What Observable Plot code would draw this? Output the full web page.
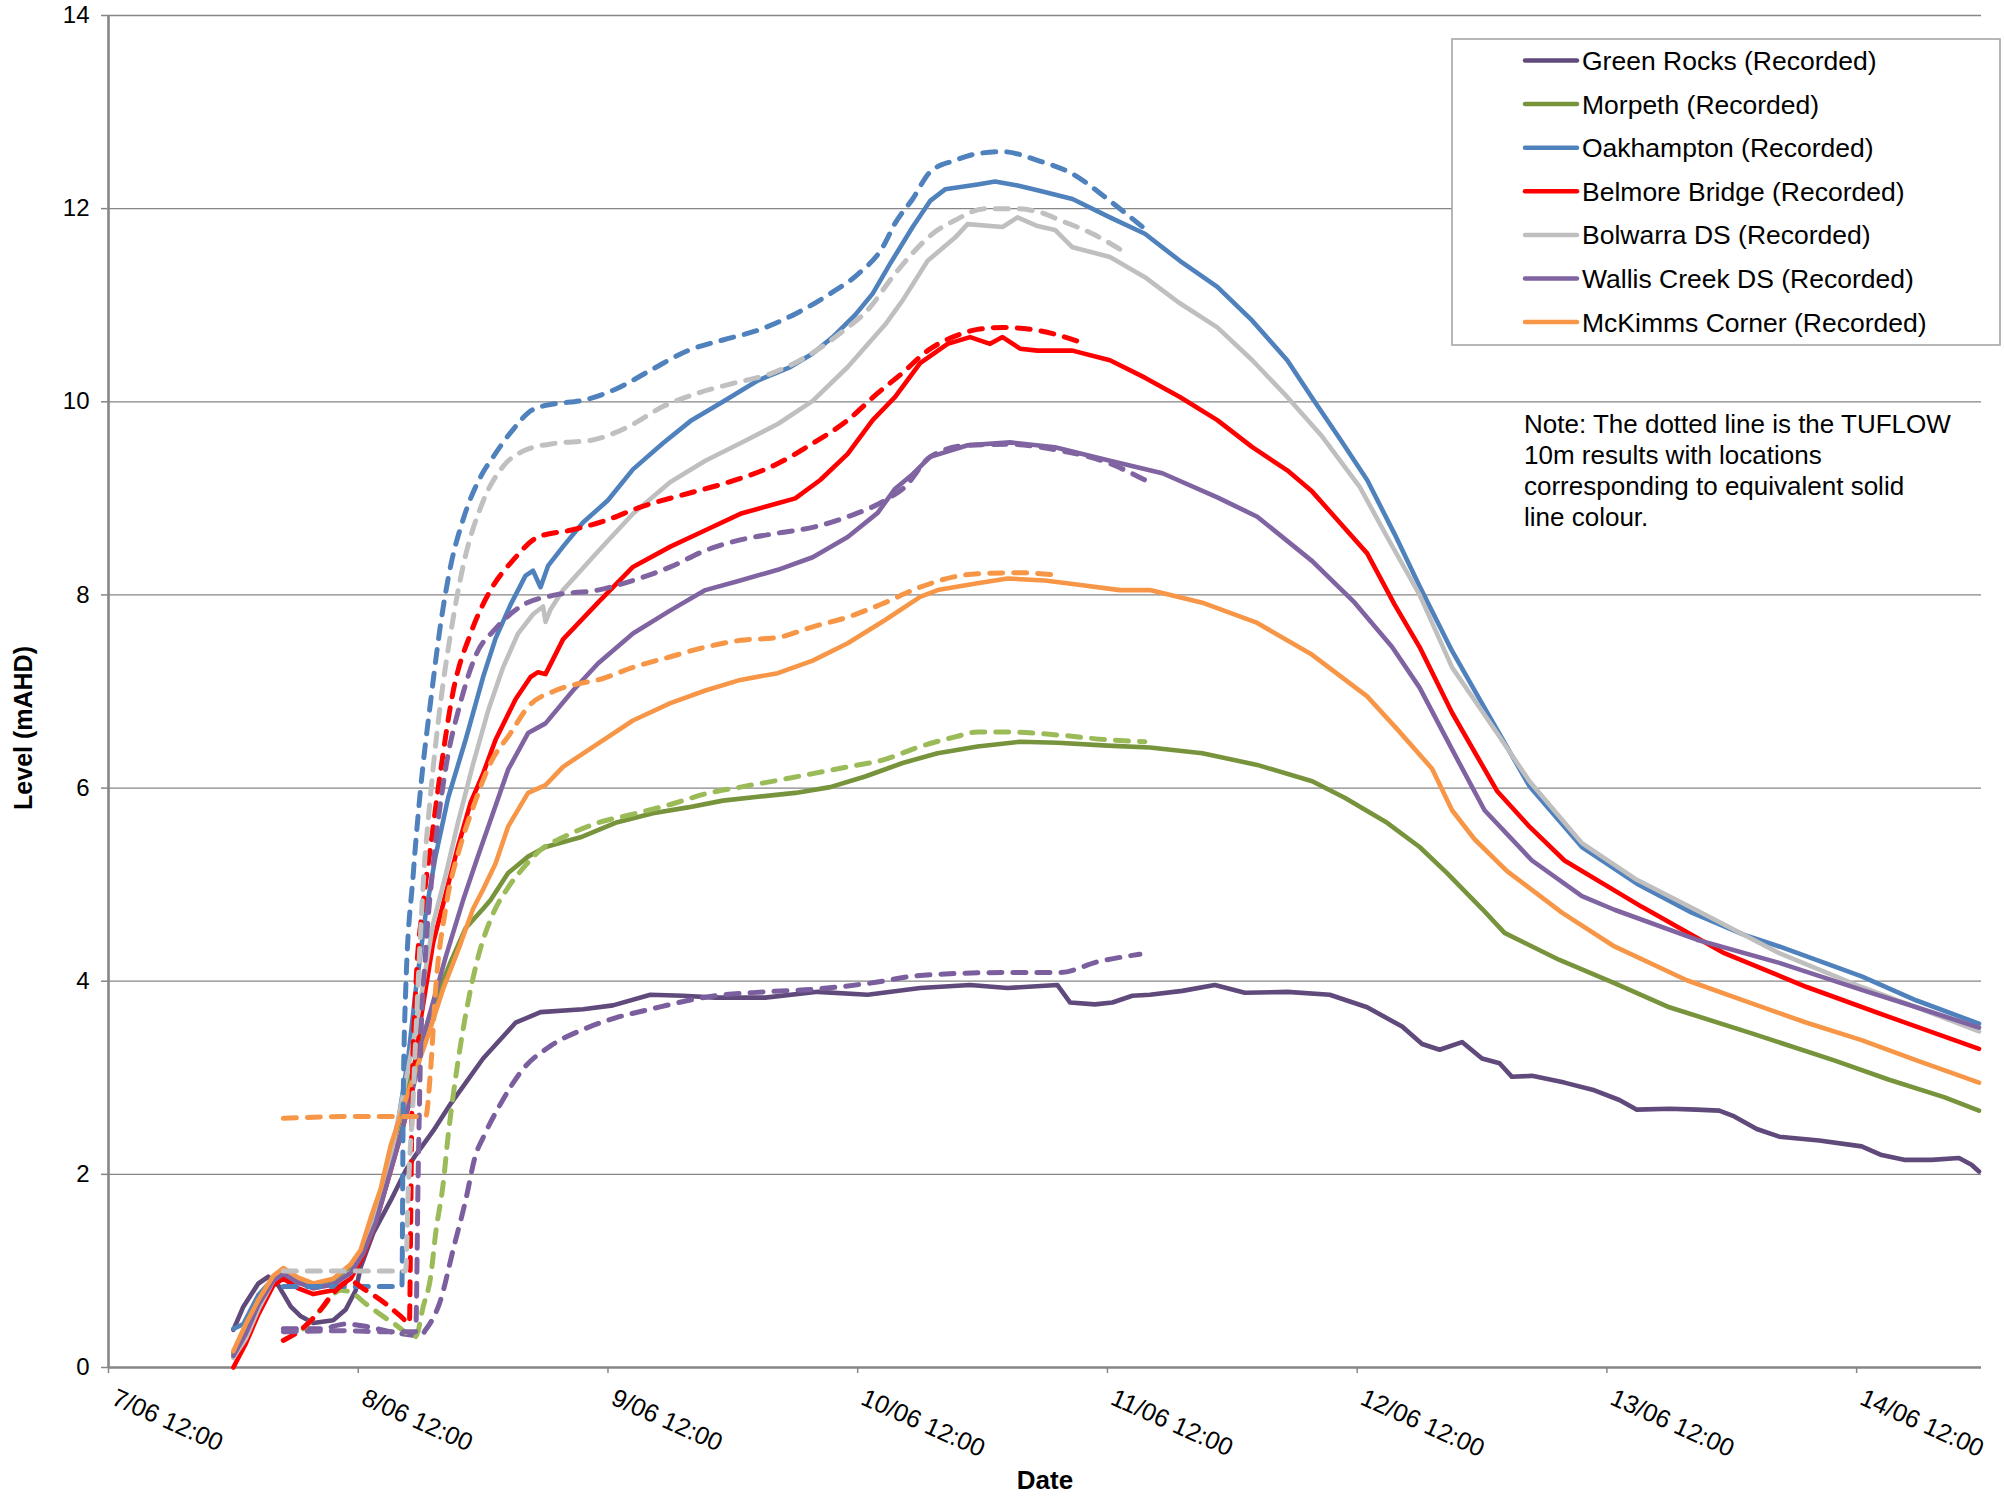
<!DOCTYPE html>
<html><head><meta charset="utf-8">
<script src="https://cdn.jsdelivr.net/npm/d3@7"></script>
<script src="https://cdn.jsdelivr.net/npm/@observablehq/plot@0.6"></script>
<style>body{margin:0;background:#fff} svg{display:block}</style>
</head><body><div id="chart"></div>
<script>
// Day of June 2007 (fractional) , level (mAHD)
const greenRocksRec = [[8.0,0.39],[8.04,0.63],[8.1,0.87],[8.14,0.94],[8.18,0.85],[8.23,0.63],[8.27,0.53],[8.32,0.46],[8.4,0.49],[8.45,0.6],[8.49,0.8],[8.51,1.04],[8.56,1.39],[8.63,1.73],[8.69,2.04],[8.73,2.2],[8.8,2.45],[8.87,2.73],[9.0,3.2],[9.13,3.57],[9.23,3.68],[9.4,3.71],[9.52,3.75],[9.67,3.86],[9.8,3.85],[9.93,3.83],[10.13,3.83],[10.34,3.89],[10.54,3.86],[10.75,3.93],[10.95,3.96],[11.1,3.93],[11.3,3.96],[11.35,3.78],[11.45,3.76],[11.52,3.78],[11.6,3.85],[11.67,3.86],[11.8,3.9],[11.93,3.96],[12.05,3.88],[12.22,3.89],[12.39,3.86],[12.54,3.73],[12.68,3.53],[12.76,3.35],[12.83,3.29],[12.92,3.37],[13.0,3.2],[13.07,3.15],[13.12,3.01],[13.2,3.02],[13.33,2.95],[13.45,2.87],[13.55,2.77],[13.62,2.67],[13.75,2.68],[13.86,2.67],[13.95,2.66],[14.01,2.6],[14.1,2.47],[14.19,2.39],[14.35,2.35],[14.52,2.29],[14.6,2.2],[14.69,2.15],[14.8,2.15],[14.91,2.17],[14.96,2.1],[14.99,2.03]];
const morpethRec = [[8.0,0.15],[8.05,0.4],[8.1,0.68],[8.16,0.93],[8.2,1.0],[8.26,0.9],[8.32,0.85],[8.4,0.9],[8.47,1.05],[8.51,1.2],[8.55,1.5],[8.6,1.9],[8.65,2.4],[8.73,3.2],[8.8,3.75],[8.87,4.2],[8.93,4.55],[9.0,4.75],[9.03,4.84],[9.1,5.12],[9.18,5.29],[9.25,5.39],[9.39,5.49],[9.53,5.64],[9.68,5.74],[9.82,5.8],[9.96,5.87],[10.1,5.91],[10.25,5.95],[10.39,6.01],[10.53,6.12],[10.68,6.26],[10.82,6.36],[10.98,6.43],[11.15,6.48],[11.3,6.47],[11.5,6.44],[11.67,6.42],[11.88,6.36],[12.1,6.24],[12.32,6.07],[12.45,5.9],[12.62,5.64],[12.75,5.39],[12.86,5.12],[13.0,4.75],[13.09,4.5],[13.31,4.22],[13.53,3.98],[13.75,3.73],[14.08,3.46],[14.41,3.18],[14.63,2.98],[14.85,2.8],[14.99,2.66]];
const oakhamptonRec = [[8.0,0.4],[8.04,0.45],[8.1,0.75],[8.16,0.92],[8.2,0.95],[8.26,0.88],[8.32,0.84],[8.4,0.86],[8.47,0.98],[8.52,1.2],[8.57,1.6],[8.62,2.1],[8.66,2.55],[8.7,3.2],[8.73,3.9],[8.77,4.7],[8.81,5.3],[8.86,5.9],[8.93,6.5],[9.0,7.15],[9.05,7.55],[9.11,7.9],[9.17,8.2],[9.2,8.25],[9.23,8.08],[9.26,8.3],[9.32,8.5],[9.4,8.75],[9.5,8.98],[9.6,9.3],[9.72,9.57],[9.83,9.8],[9.96,10.0],[10.1,10.22],[10.23,10.36],[10.32,10.5],[10.4,10.67],[10.49,10.9],[10.56,11.12],[10.63,11.43],[10.72,11.81],[10.79,12.08],[10.85,12.2],[10.98,12.25],[11.05,12.28],[11.14,12.24],[11.22,12.19],[11.36,12.1],[11.51,11.91],[11.65,11.74],[11.79,11.46],[11.94,11.19],[12.08,10.84],[12.22,10.43],[12.32,10.04],[12.43,9.62],[12.54,9.19],[12.65,8.63],[12.75,8.09],[12.88,7.42],[13.01,6.83],[13.19,6.02],[13.4,5.39],[13.62,5.01],[13.84,4.71],[14.05,4.48],[14.19,4.36],[14.52,4.05],[14.74,3.8],[14.99,3.56]];
const belmoreRec = [[8.0,0.0],[8.05,0.25],[8.1,0.55],[8.16,0.85],[8.2,0.92],[8.26,0.82],[8.32,0.76],[8.4,0.8],[8.47,0.92],[8.52,1.15],[8.57,1.5],[8.62,1.95],[8.67,2.4],[8.71,2.8],[8.75,3.6],[8.8,4.4],[8.85,4.9],[8.9,5.4],[8.95,5.85],[9.0,6.15],[9.05,6.5],[9.13,6.92],[9.19,7.15],[9.22,7.2],[9.25,7.18],[9.32,7.54],[9.46,7.92],[9.6,8.29],[9.75,8.5],[9.89,8.67],[10.03,8.84],[10.18,8.95],[10.25,9.0],[10.35,9.19],[10.46,9.46],[10.56,9.81],[10.65,10.05],[10.75,10.4],[10.86,10.6],[10.95,10.67],[11.03,10.6],[11.08,10.67],[11.15,10.55],[11.22,10.53],[11.36,10.53],[11.51,10.43],[11.65,10.25],[11.79,10.05],[11.94,9.81],[12.08,9.53],[12.22,9.29],[12.32,9.07],[12.43,8.75],[12.54,8.43],[12.65,7.9],[12.75,7.46],[12.88,6.78],[13.06,5.97],[13.19,5.6],[13.33,5.25],[13.64,4.77],[13.97,4.29],[14.3,3.94],[14.63,3.63],[14.99,3.3]];
const bolwarraRec = [[8.0,0.1],[8.05,0.3],[8.1,0.6],[8.16,0.9],[8.2,0.98],[8.26,0.9],[8.32,0.82],[8.4,0.86],[8.47,0.98],[8.52,1.2],[8.57,1.55],[8.62,2.05],[8.67,2.7],[8.73,3.5],[8.8,4.6],[8.85,5.1],[8.9,5.65],[8.96,6.25],[9.02,6.8],[9.08,7.25],[9.14,7.6],[9.2,7.8],[9.24,7.88],[9.25,7.72],[9.27,7.85],[9.32,8.05],[9.46,8.45],[9.6,8.84],[9.75,9.17],[9.89,9.39],[10.03,9.57],[10.18,9.77],[10.32,10.01],[10.46,10.36],[10.61,10.8],[10.68,11.05],[10.78,11.46],[10.89,11.7],[10.94,11.84],[11.08,11.81],[11.14,11.91],[11.22,11.82],[11.29,11.78],[11.36,11.6],[11.51,11.5],[11.65,11.29],[11.79,11.02],[11.94,10.77],[12.08,10.43],[12.22,10.05],[12.36,9.64],[12.51,9.12],[12.62,8.6],[12.75,8.0],[12.88,7.25],[13.06,6.57],[13.19,6.07],[13.4,5.43],[13.62,5.05],[13.84,4.76],[14.19,4.29],[14.52,3.94],[14.74,3.73],[14.99,3.48]];
const wallisRec = [[8.0,0.12],[8.05,0.35],[8.1,0.65],[8.16,0.9],[8.2,0.97],[8.26,0.88],[8.32,0.82],[8.4,0.86],[8.47,0.98],[8.52,1.18],[8.57,1.5],[8.62,1.95],[8.67,2.4],[8.72,2.9],[8.78,3.6],[8.85,4.25],[8.92,4.84],[8.98,5.3],[9.03,5.67],[9.1,6.19],[9.18,6.57],[9.25,6.67],[9.36,7.01],[9.46,7.29],[9.6,7.6],[9.75,7.84],[9.89,8.05],[10.03,8.15],[10.18,8.26],[10.32,8.39],[10.46,8.6],[10.58,8.85],[10.65,9.1],[10.72,9.25],[10.79,9.43],[10.94,9.55],[11.11,9.58],[11.29,9.53],[11.51,9.39],[11.72,9.26],[11.94,9.01],[12.1,8.81],[12.32,8.35],[12.49,7.92],[12.64,7.46],[12.75,7.04],[12.88,6.4],[13.01,5.77],[13.2,5.25],[13.4,4.88],[13.53,4.74],[13.86,4.43],[14.19,4.19],[14.52,3.91],[14.74,3.73],[14.99,3.52]];
const mckimmsRec = [[8.0,0.17],[8.05,0.45],[8.1,0.7],[8.16,0.95],[8.2,1.03],[8.26,0.93],[8.32,0.87],[8.4,0.92],[8.47,1.07],[8.51,1.22],[8.55,1.55],[8.59,1.85],[8.63,2.3],[8.7,2.85],[8.78,3.44],[8.84,3.92],[8.91,4.39],[8.96,4.75],[9.0,4.95],[9.05,5.22],[9.1,5.6],[9.18,5.95],[9.25,6.03],[9.32,6.22],[9.46,6.46],[9.6,6.7],[9.75,6.88],[9.89,7.01],[10.03,7.12],[10.18,7.19],[10.32,7.32],[10.46,7.5],[10.61,7.74],[10.75,7.98],[10.82,8.05],[10.98,8.12],[11.1,8.17],[11.25,8.15],[11.4,8.1],[11.55,8.05],[11.67,8.05],[11.88,7.92],[12.1,7.71],[12.32,7.38],[12.54,6.95],[12.66,6.61],[12.8,6.2],[12.88,5.77],[12.97,5.47],[13.1,5.14],[13.32,4.71],[13.53,4.36],[13.82,4.01],[14.08,3.77],[14.3,3.57],[14.52,3.39],[14.74,3.18],[14.99,2.95]];

// TUFLOW 10m results (dashed)
const greenRocksMod = [[8.2,0.4],[8.35,0.4],[8.45,0.45],[8.52,0.43],[8.65,0.36],[8.75,0.33],[8.77,0.39],[8.83,0.7],[8.88,1.22],[8.93,1.73],[8.97,2.2],[9.0,2.38],[9.07,2.73],[9.16,3.09],[9.27,3.33],[9.4,3.5],[9.53,3.62],[9.67,3.71],[9.93,3.85],[10.13,3.89],[10.34,3.92],[10.55,3.98],[10.75,4.06],[11.1,4.09],[11.31,4.09],[11.46,4.2],[11.63,4.28]];
const morpethMod = [[8.28,0.4],[8.35,0.6],[8.43,0.8],[8.47,0.78],[8.53,0.66],[8.64,0.46],[8.73,0.32],[8.76,0.63],[8.79,0.94],[8.81,1.39],[8.84,1.9],[8.86,2.4],[8.89,3.0],[8.93,3.65],[8.98,4.25],[9.04,4.7],[9.1,4.97],[9.17,5.2],[9.23,5.36],[9.32,5.49],[9.46,5.64],[9.6,5.73],[9.75,5.83],[9.89,5.94],[10.03,6.01],[10.18,6.08],[10.32,6.15],[10.46,6.22],[10.6,6.29],[10.75,6.43],[10.89,6.53],[10.98,6.58],[11.1,6.58],[11.3,6.55],[11.5,6.5],[11.65,6.48]];
const oakhamptonMod = [[8.2,0.84],[8.4,0.84],[8.6,0.84],[8.675,0.84],[8.68,2.7],[8.69,3.9],[8.72,5.1],[8.75,6.0],[8.79,6.9],[8.83,7.7],[8.87,8.3],[8.92,8.78],[9.0,9.27],[9.03,9.39],[9.11,9.68],[9.2,9.92],[9.29,9.98],[9.39,10.01],[9.53,10.13],[9.68,10.34],[9.82,10.53],[9.96,10.64],[10.1,10.74],[10.25,10.91],[10.39,11.12],[10.5,11.32],[10.6,11.6],[10.65,11.85],[10.72,12.1],[10.79,12.38],[10.89,12.5],[10.98,12.57],[11.08,12.59],[11.22,12.5],[11.36,12.36],[11.51,12.08],[11.65,11.79]];
const belmoreMod = [[8.2,0.28],[8.27,0.39],[8.35,0.6],[8.4,0.77],[8.47,0.89],[8.53,0.8],[8.61,0.66],[8.67,0.53],[8.705,0.46],[8.71,1.5],[8.715,2.7],[8.73,3.9],[8.76,4.8],[8.79,5.4],[8.83,6.18],[8.88,7.0],[8.95,7.6],[9.03,8.05],[9.12,8.36],[9.22,8.6],[9.35,8.67],[9.49,8.77],[9.63,8.91],[9.82,9.05],[9.96,9.15],[10.18,9.36],[10.32,9.57],[10.46,9.81],[10.58,10.09],[10.68,10.3],[10.78,10.53],[10.89,10.68],[10.98,10.75],[11.08,10.77],[11.22,10.74],[11.39,10.62]];
const bolwarraMod = [[8.2,1.0],[8.45,1.0],[8.69,1.0],[8.7,1.8],[8.72,2.8],[8.73,3.4],[8.76,5.0],[8.79,5.94],[8.83,6.89],[8.87,7.6],[8.92,8.3],[9.0,8.97],[9.08,9.33],[9.17,9.5],[9.29,9.57],[9.43,9.6],[9.58,9.74],[9.72,9.95],[9.86,10.09],[10.0,10.19],[10.15,10.29],[10.29,10.46],[10.43,10.71],[10.55,10.98],[10.63,11.26],[10.72,11.54],[10.8,11.74],[10.89,11.88],[11.01,12.0],[11.12,12.0],[11.22,11.97],[11.31,11.88],[11.44,11.74],[11.55,11.58]];
const wallisMod = [[8.2,0.37],[8.45,0.38],[8.6,0.37],[8.73,0.37],[8.74,2.0],[8.75,3.3],[8.77,4.3],[8.8,5.2],[8.85,6.2],[8.91,6.89],[8.97,7.37],[9.05,7.65],[9.15,7.88],[9.29,8.0],[9.46,8.05],[9.6,8.15],[9.75,8.29],[9.89,8.46],[10.03,8.57],[10.18,8.64],[10.32,8.7],[10.46,8.81],[10.61,8.98],[10.69,9.12],[10.79,9.43],[10.94,9.55],[11.1,9.56],[11.3,9.5],[11.51,9.36],[11.65,9.19]];
const mckimmsMod = [[8.2,2.58],[8.5,2.6],[8.77,2.6],[8.79,3.09],[8.81,3.92],[8.85,4.75],[8.91,5.41],[8.96,5.8],[9.03,6.26],[9.11,6.57],[9.18,6.84],[9.29,7.01],[9.38,7.08],[9.46,7.12],[9.6,7.25],[9.75,7.36],[9.89,7.46],[10.03,7.53],[10.18,7.56],[10.32,7.67],[10.46,7.77],[10.6,7.91],[10.75,8.08],[10.89,8.19],[10.98,8.22],[11.15,8.23],[11.31,8.2]];

const seriesNames = ["Green Rocks (Recorded)","Morpeth (Recorded)","Oakhampton (Recorded)","Belmore Bridge (Recorded)","Bolwarra DS (Recorded)","Wallis Creek DS (Recorded)","McKimms Corner (Recorded)"];
const solidColors = ["#604A7B","#77933C","#4F81BD","#FF0000","#BFBFBF","#8064A2","#F79646"];
const dashColors  = ["#7A5E9E","#9BBB59","#4F81BD","#FF0000","#C0C0C0","#8064A2","#F79646"];
const recordedData = [greenRocksRec, morpethRec, oakhamptonRec, belmoreRec, bolwarraRec, wallisRec, mckimmsRec];
const modelData = [greenRocksMod, morpethMod, oakhamptonMod, belmoreMod, bolwarraMod, wallisMod, mckimmsMod];
const tickDays = [7.5, 8.5, 9.5, 10.5, 11.5, 12.5, 13.5, 14.5];
const yTicks = [0, 2, 4, 6, 8, 10, 12, 14];
const noteLines = ["Note: The dotted line is the TUFLOW", "10m results with locations", "corresponding to equivalent solid", "line colour."];
const yTitle = "Level (mAHD)";
const xTitle = "Date";

const toDate = d => new Date(Date.UTC(2007, 5, 1) + (d - 1) * 864e5);
const FONT = "'Liberation Sans', Arial, Helvetica, sans-serif";
const AXIS = "#868686";

const plot = Plot.plot({
  width: 2004, height: 1497,
  marginLeft: 108, marginRight: 23, marginTop: 15, marginBottom: 130,
  style: {fontFamily: FONT, background: "white", color: "black"},
  x: {type: "utc", domain: [toDate(7.5), toDate(15.0)]},
  y: {domain: [0, 14]},
  marks: [
    Plot.ruleY(yTicks.filter(v => v > 0), {stroke: AXIS, strokeWidth: 1.3}),
    Plot.axisY({ticks: yTicks, tickSize: 7, tickPadding: 12, fontSize: 24, label: null, stroke: AXIS, strokeWidth: 1.5}),
    Plot.axisX({ticks: tickDays.map(toDate), tickSize: 6, tickFormat: () => "", label: null, stroke: AXIS, strokeWidth: 1.5}),
    Plot.ruleX([toDate(7.5)], {stroke: AXIS, strokeWidth: 2.6}),
    Plot.ruleY([0], {stroke: AXIS, strokeWidth: 2.6}),
    Plot.text(tickDays, {x: d => toDate(d), frameAnchor: "bottom", dy: 20, dx: 9, rotate: 24, textAnchor: "start", lineAnchor: "top",
      text: d => `${Math.floor(d)}/06 12:00`, fontSize: 25, fill: "black"}),
    ...recordedData.map((data, i) => Plot.line(data, {x: d => toDate(d[0]), y: d => d[1], stroke: solidColors[i], strokeWidth: 4.6, strokeLinejoin: "round", strokeLinecap: "round"})),
    ...modelData.map((data, i) => Plot.line(data, {x: d => toDate(d[0]), y: d => d[1], stroke: dashColors[i], strokeWidth: 5, strokeDasharray: "13,11", strokeLinecap: "round", curve: "monotone-x"}))
  ]
});
document.getElementById("chart").appendChild(plot);

// Titles, legend and note
const svg = d3.select(plot);
const g = svg.append("g").attr("font-family", FONT).attr("fill", "black").attr("text-anchor", "start");
g.append("text").attr("transform", "translate(23,728) rotate(-90)").attr("text-anchor", "middle")
  .attr("dominant-baseline", "central").attr("font-size", 25).attr("font-weight", "bold").text(yTitle);
g.append("text").attr("x", 1045).attr("y", 1489).attr("text-anchor", "middle")
  .attr("font-size", 26).attr("font-weight", "bold").text(xTitle);
g.append("rect").attr("x", 1452).attr("y", 39).attr("width", 548).attr("height", 306)
  .attr("fill", "white").attr("stroke", "#A6A6A6").attr("stroke-width", 1.6);
seriesNames.forEach((name, i) => {
  const y = 60.5 + i * 43.6;
  g.append("line").attr("x1", 1525).attr("x2", 1577).attr("y1", y).attr("y2", y)
    .attr("stroke", solidColors[i]).attr("stroke-width", 4.5).attr("stroke-linecap", "round");
  g.append("text").attr("x", 1582).attr("y", y + 9.5).attr("font-size", 26.5).attr("text-anchor", "start").text(name);
});
noteLines.forEach((t, i) => {
  g.append("text").attr("x", 1524).attr("y", 433 + i * 31).attr("font-size", 26).attr("text-anchor", "start").text(t);
});
</script>
</body></html>
